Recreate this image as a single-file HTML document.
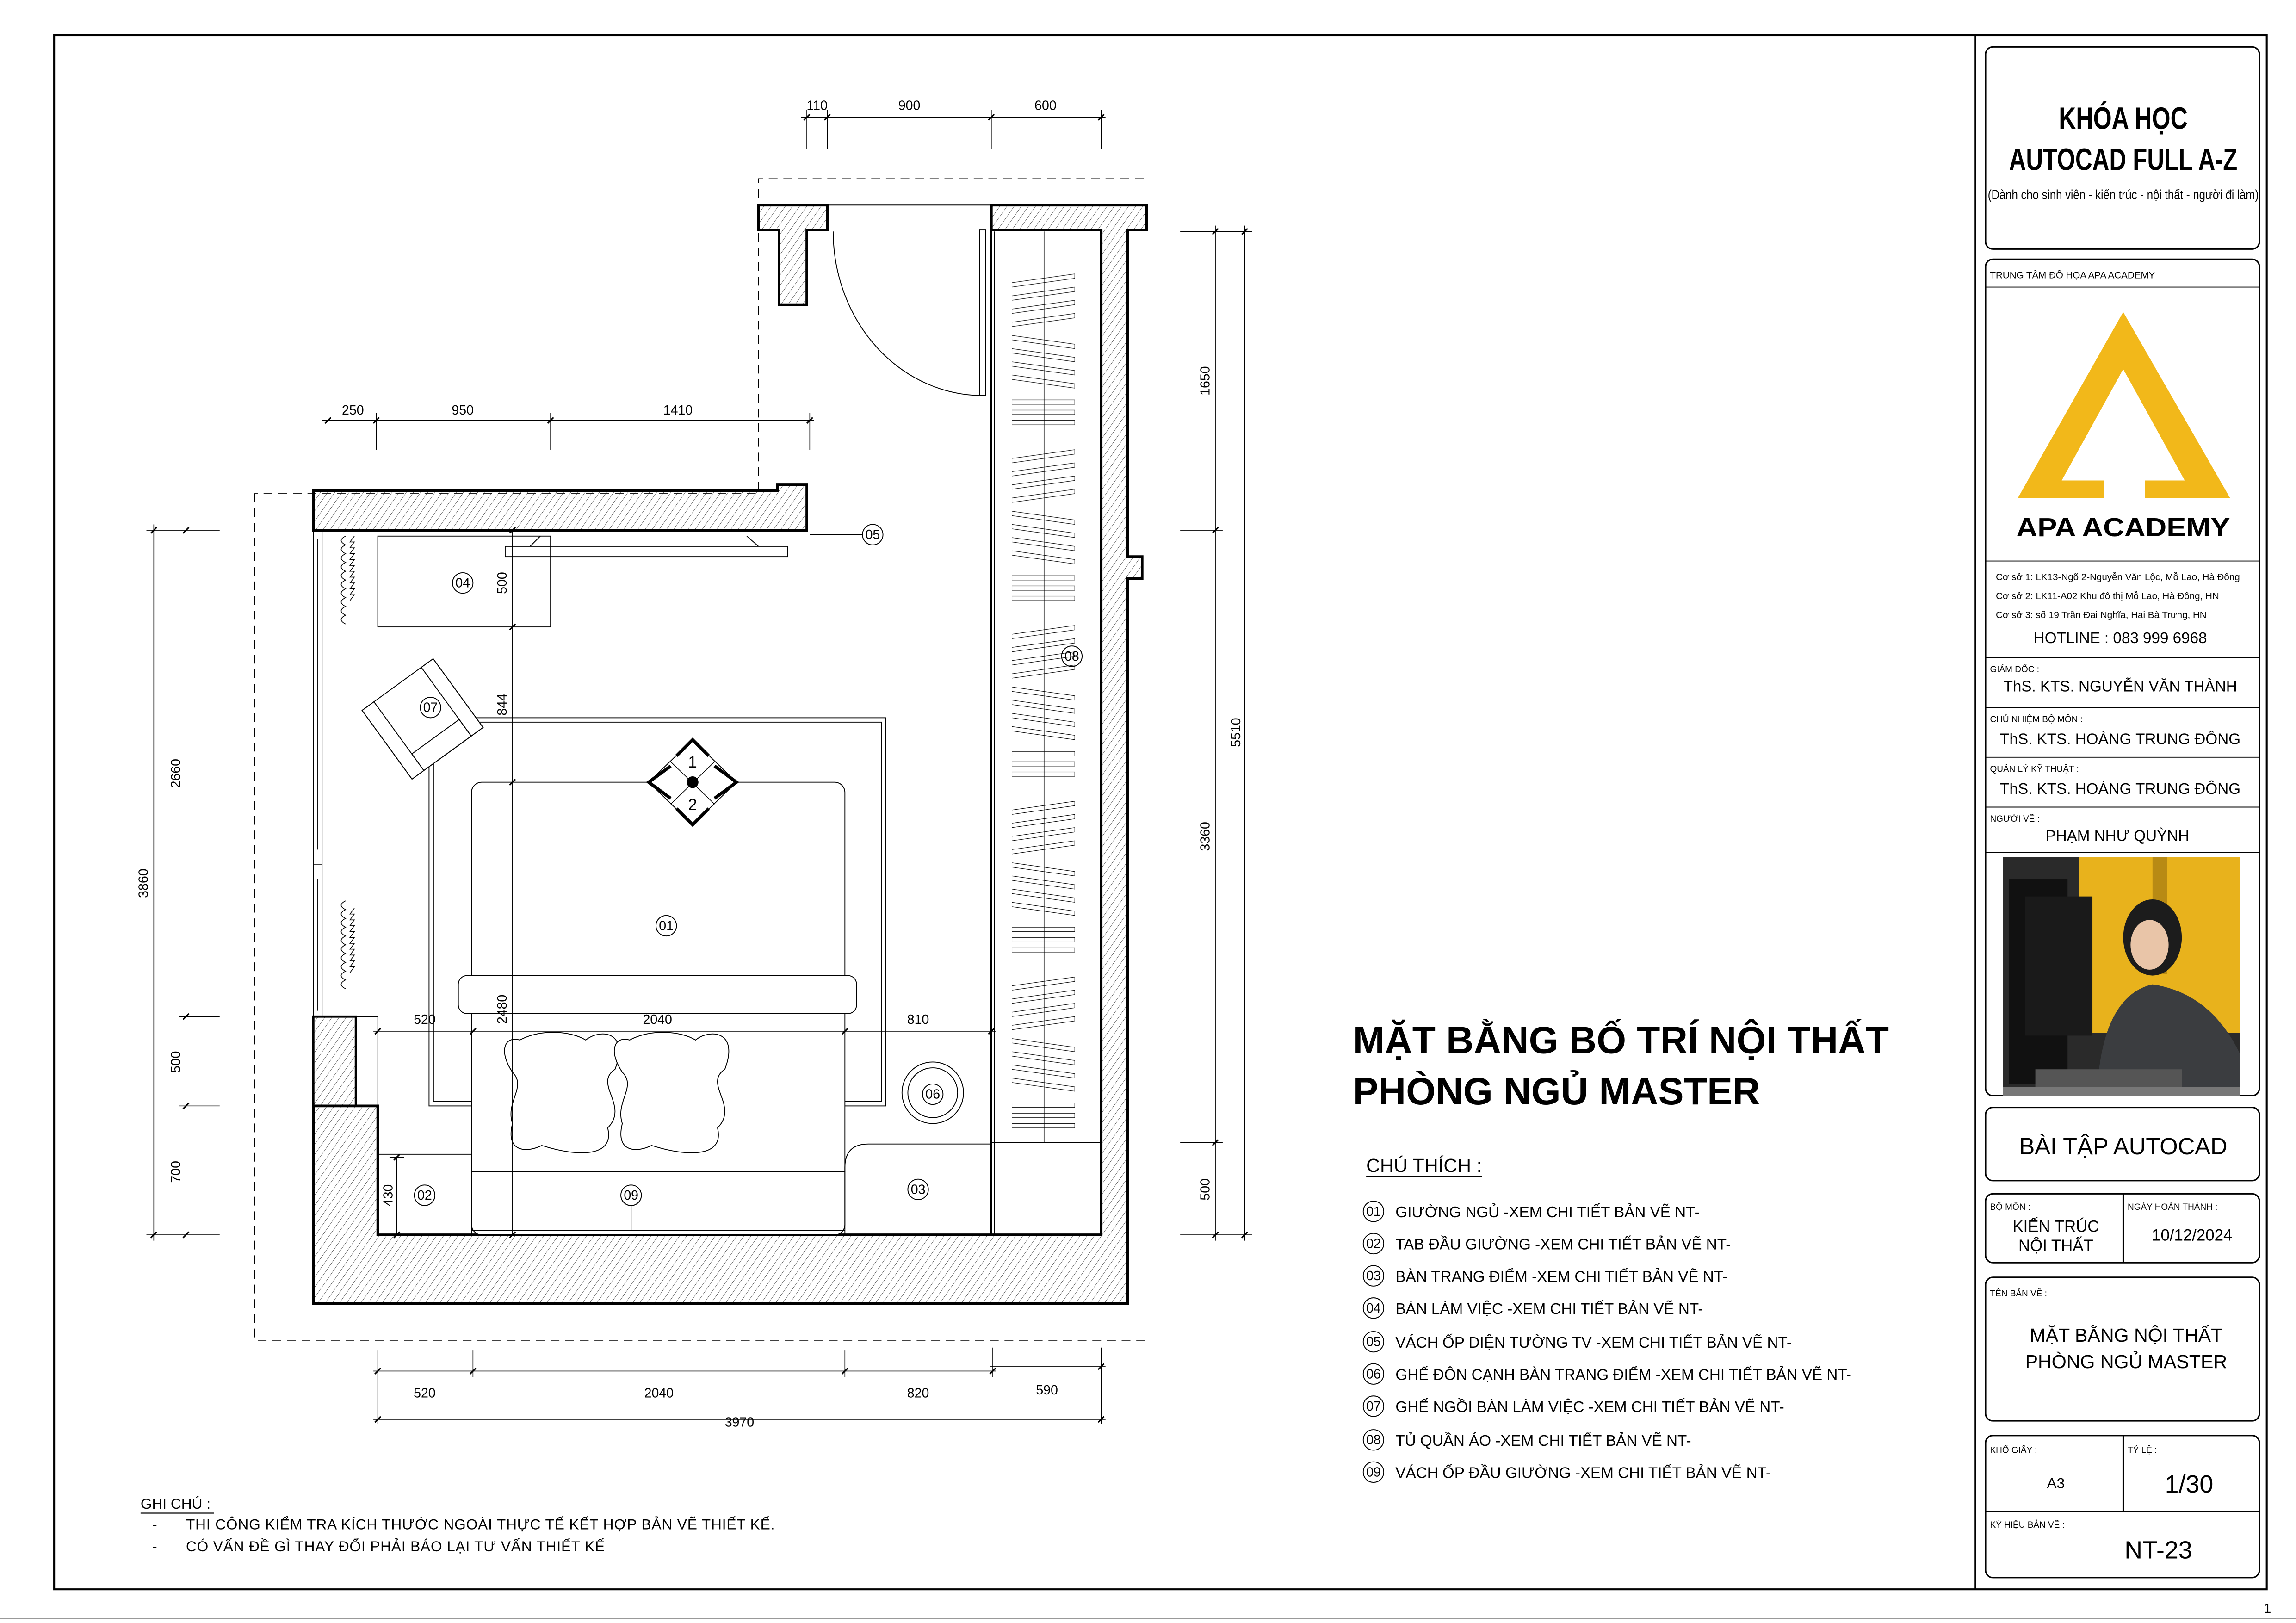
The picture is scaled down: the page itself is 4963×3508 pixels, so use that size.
<!DOCTYPE html>
<html><head><meta charset="utf-8"><style>
html,body{margin:0;padding:0;background:#fff}
svg{display:block}
text{font-family:"Liberation Sans",sans-serif;fill:#000}
</style></head><body>
<svg width="4963" height="3508" viewBox="0 0 1568 1108" preserveAspectRatio="none" xmlns="http://www.w3.org/2000/svg">
<defs>
<pattern id="h" width="4" height="4" patternUnits="userSpaceOnUse" patternTransform="rotate(35)">
<line x1="0" y1="0" x2="0" y2="4" stroke="#000" stroke-width="0.35"/>
</pattern>
<pattern id="hang" x="691" y="185" width="43" height="120" patternUnits="userSpaceOnUse">
<g fill="#fff" stroke="#000" stroke-width="0.35">
<polygon points="0,8 43,2 43,5 0,11"/><polygon points="0,17 43,11 43,14 0,20"/><polygon points="0,26 43,20 43,23 0,29"/><polygon points="0,35 43,29 43,32 0,38"/>
<polygon points="0,44 43,50 43,53 0,47"/><polygon points="0,53 43,59 43,62 0,56"/><polygon points="0,62 43,68 43,71 0,65"/><polygon points="0,71 43,77 43,80 0,74"/>
<rect x="0" y="88" width="43" height="3"/><rect x="0" y="95" width="43" height="3"/><rect x="0" y="102" width="43" height="3"/>
</g>
</pattern>
</defs>
<rect x="0" y="0" width="1568" height="1108" fill="#fff"/>
<rect x="37" y="24" width="1511" height="1061" fill="none" stroke="#000" stroke-width="1.3"/>
<line x1="1349" y1="24" x2="1349" y2="1085" stroke="#000" stroke-width="1"/>
<line x1="0" y1="1105" x2="1568" y2="1105" stroke="#999" stroke-width="0.6"/>
<text x="1546" y="1101" font-size="9">1</text>

<g fill="none" stroke="#000" stroke-width="0.5" stroke-dasharray="6,4">
<path d="M174,337 V915 H782 V122 H518 V337 Z"/>
</g>

<g stroke="#000" stroke-width="1.8" fill="url(#h)">
<path d="M214,335 H531 V331 H551 V362 H214 Z"/>
<path d="M518,140 H565 V157 H551 V208 H532 V157 H518 Z"/>
<path d="M677,140 H783 V157 H770 V380 H780 V395 H770 V890 H214 V755 H258 V843 H752 V157 H677 Z"/>
</g>
<rect x="214" y="694" width="29" height="61" fill="url(#h)" stroke="#000" stroke-width="1.5"/>
<line x1="243" y1="694" x2="258" y2="694" stroke="#000" stroke-width="0.5"/>
<line x1="258" y1="694" x2="258" y2="755" stroke="#000" stroke-width="0.5"/>
<g fill="none" stroke="#000" stroke-width="0.5">
<rect x="214" y="362" width="6" height="332"/>
<line x1="217" y1="368" x2="217" y2="580"/><line x1="217" y1="600" x2="217" y2="690"/>
<line x1="214" y1="590" x2="220" y2="590"/>
</g>
<g fill="none" stroke="#000" stroke-width="0.5">
<path d="M236,366 q-6,3 0,6 q-6,3 0,6 q-6,3 0,6 q-6,3 0,6 q-6,3 0,6 q-6,3 0,6 q-6,3 0,6 q-6,3 0,6 q-6,3 0,6 q-6,3 0,6"/>
<path d="M242,366 l-3,4 l3,0 l-3,4 l3,0 l-3,4 l3,0 l-3,4 l3,0 l-3,4 l3,0 l-3,4 l3,0 l-3,4 l3,0 l-3,4 l3,0 l-3,4 l3,0 l-3,4 l3,0 l-3,4"/>
<path d="M236,615 q-6,3 0,6 q-6,3 0,6 q-6,3 0,6 q-6,3 0,6 q-6,3 0,6 q-6,3 0,6 q-6,3 0,6 q-6,3 0,6 q-6,3 0,6 q-6,3 0,6"/>
<path d="M242,620 l-3,4 l3,0 l-3,4 l3,0 l-3,4 l3,0 l-3,4 l3,0 l-3,4 l3,0 l-3,4 l3,0 l-3,4 l3,0 l-3,4 l3,0 l-3,4 l3,0 l-3,4 l3,0 l-3,4"/>
</g>

<g fill="none" stroke="#000" stroke-width="0.6">
<rect x="669" y="157" width="4" height="113"/>
<path d="M569,158 A102,112 0 0 0 671,270"/>
<line x1="565" y1="140" x2="677" y2="140"/>
</g>

<g fill="none" stroke="#000" stroke-width="0.6">
<rect x="677" y="157" width="75" height="686" stroke-width="1.2"/>
<line x1="679" y1="158" x2="679" y2="843"/>
<line x1="677" y1="780" x2="752" y2="780"/>
</g>
<rect x="691" y="185" width="43" height="590" fill="url(#hang)"/>
<line x1="713" y1="158" x2="713" y2="780" stroke="#000" stroke-width="0.5"/>

<g fill="none" stroke="#000" stroke-width="0.6">
<rect x="258" y="366" width="118" height="62"/>
<rect x="345" y="373" width="193" height="7"/>
<line x1="362" y1="373" x2="369" y2="366"/><line x1="510" y1="366" x2="518" y2="373"/>
<rect x="293" y="490" width="312" height="265"/>
<rect x="296" y="493" width="306" height="259"/>
<rect x="322" y="534" width="255" height="309" rx="7" fill="#fff"/>
<rect x="313" y="666" width="272" height="26" rx="6" fill="#fff"/>
<line x1="322" y1="800" x2="577" y2="800"/>
<line x1="322" y1="840" x2="577" y2="840"/>
<rect x="258" y="788" width="64" height="55"/>
<path d="M577,843 V797 q0,-16 16,-16 H677"/>
<circle cx="637" cy="746" r="21"/><circle cx="637" cy="746" r="17"/>
<g transform="rotate(-36 288 490)"><rect x="258" y="462" width="60" height="58" fill="#fff"/><rect x="258" y="462" width="10" height="58"/><rect x="308" y="462" width="10" height="58"/><rect x="268" y="506" width="40" height="14"/></g>
<path d="M355,710 c15,-8 35,-6 45,0 c10,-8 30,-6 20,20 c-15,10 10,25 -5,40 c5,20 -20,20 -45,12 c-10,5 -25,5 -20,-15 c-5,-15 10,-25 0,-35 c-10,-15 -5,-25 5,-22 z" fill="#fff"/>
<path d="M430,710 c15,-8 35,-6 45,0 c10,-8 30,-6 20,20 c-15,10 10,25 -5,40 c5,20 -20,20 -45,12 c-10,5 -25,5 -20,-15 c-5,-15 10,-25 0,-35 c-10,-15 -5,-25 5,-22 z" fill="#fff"/>
</g>
<g stroke="#000" fill="#fff">
<path d="M473,505 L503,534 L473,563 L443,534 Z" stroke-width="0.6"/>
<path d="M458,520 L488,549 M488,520 L458,549" stroke-width="0.5"/>
<path d="M462,516 L473,505 L484,516 M488,523 L503,534 L488,545 M484,552 L473,563 L462,552 M458,545 L443,534 L458,523" stroke-width="2.2" fill="none"/>
<circle cx="473" cy="534" r="3.5" fill="#000"/>
</g>
<text x="473" y="524" font-size="11" text-anchor="middle">1</text>
<text x="473" y="553" font-size="11" text-anchor="middle">2</text>

<g font-size="9" text-anchor="middle">
<g fill="none" stroke="#000" stroke-width="0.6">
<circle cx="316" cy="398" r="7"/><circle cx="596" cy="365" r="7"/><circle cx="294" cy="483" r="7"/><circle cx="455" cy="632" r="7"/><circle cx="732" cy="448" r="7"/><circle cx="637" cy="747" r="7"/><circle cx="290" cy="816" r="7"/><circle cx="431" cy="816" r="7"/><circle cx="627" cy="812" r="7"/>
<line x1="553" y1="365" x2="589" y2="365"/><line x1="431" y1="823" x2="431" y2="840"/>
</g>
<text x="316" y="401">04</text><text x="596" y="368">05</text><text x="294" y="486">07</text><text x="455" y="635">01</text><text x="732" y="451">08</text><text x="637" y="750">06</text><text x="290" y="819">02</text><text x="431" y="819">09</text><text x="627" y="815">03</text>
</g>

<g stroke="#000" stroke-width="0.5" fill="none">
<line x1="547" y1="80" x2="755" y2="80"/>
<line x1="551" y1="75" x2="551" y2="102"/><line x1="565" y1="75" x2="565" y2="102"/><line x1="677" y1="75" x2="677" y2="102"/><line x1="752" y1="75" x2="752" y2="102"/>
<line x1="220" y1="287" x2="556" y2="287"/>
<line x1="224" y1="282" x2="224" y2="307"/><line x1="257" y1="282" x2="257" y2="307"/><line x1="376" y1="282" x2="376" y2="307"/><line x1="553" y1="282" x2="553" y2="307"/>
<line x1="830" y1="154" x2="830" y2="847"/><line x1="850" y1="154" x2="850" y2="847"/>
<line x1="806" y1="158" x2="855" y2="158"/><line x1="806" y1="362" x2="835" y2="362"/><line x1="806" y1="780" x2="835" y2="780"/><line x1="806" y1="843" x2="855" y2="843"/>
<line x1="105" y1="358" x2="105" y2="847"/><line x1="127" y1="358" x2="127" y2="847"/>
<line x1="100" y1="362" x2="150" y2="362"/><line x1="122" y1="694" x2="150" y2="694"/><line x1="122" y1="755" x2="150" y2="755"/><line x1="100" y1="843" x2="150" y2="843"/>
<line x1="255" y1="936" x2="680" y2="936"/><line x1="676" y1="933" x2="755" y2="933"/>
<line x1="255" y1="969" x2="755" y2="969"/>
<line x1="258" y1="922" x2="258" y2="972"/><line x1="323" y1="922" x2="323" y2="940"/><line x1="577" y1="922" x2="577" y2="940"/><line x1="678" y1="920" x2="678" y2="940"/><line x1="752" y1="920" x2="752" y2="972"/>
<line x1="255" y1="704" x2="680" y2="704"/>
<line x1="350" y1="362" x2="350" y2="843"/>
<line x1="271" y1="790" x2="271" y2="843"/>
<line x1="266" y1="790" x2="276" y2="790"/>
</g>
<g stroke="#000" stroke-width="1">
<path d="M549,82 l4,-4 M563,82 l4,-4 M675,82 l4,-4 M750,82 l4,-4 M222,289 l4,-4 M255,289 l4,-4 M374,289 l4,-4 M551,289 l4,-4 M828,160 l4,-4 M828,364 l4,-4 M828,782 l4,-4 M828,845 l4,-4 M848,160 l4,-4 M848,845 l4,-4 M103,364 l4,-4 M103,845 l4,-4 M125,364 l4,-4 M125,696 l4,-4 M125,757 l4,-4 M125,845 l4,-4 M256,938 l4,-4 M321,938 l4,-4 M575,938 l4,-4 M676,938 l4,-4 M750,935 l4,-4 M256,971 l4,-4 M750,971 l4,-4 M256,706 l4,-4 M321,706 l4,-4 M575,706 l4,-4 M675,706 l4,-4 M348,364 l4,-4 M348,430 l4,-4 M348,536 l4,-4 M348,845 l4,-4 M269,792 l4,-4 M269,845 l4,-4"/>
</g>
<g font-size="9" text-anchor="middle">
<text x="558" y="75">110</text><text x="621" y="75">900</text><text x="714" y="75">600</text>
<text x="241" y="283">250</text><text x="316" y="283">950</text><text x="463" y="283">1410</text>
<text x="290" y="954">520</text><text x="450" y="954">2040</text><text x="627" y="954">820</text><text x="715" y="952">590</text><text x="505" y="974">3970</text>
<text x="290" y="699">520</text><text x="449" y="699">2040</text><text x="627" y="699">810</text>
<text transform="translate(826,260) rotate(-90)">1650</text><text transform="translate(826,571) rotate(-90)">3360</text><text transform="translate(826,812) rotate(-90)">500</text><text transform="translate(847,500) rotate(-90)">5510</text>
<text transform="translate(123,528) rotate(-90)">2660</text><text transform="translate(123,725) rotate(-90)">500</text><text transform="translate(123,800) rotate(-90)">700</text><text transform="translate(101,603) rotate(-90)">3860</text>
<text transform="translate(346,398) rotate(-90)">500</text><text transform="translate(346,481) rotate(-90)">844</text><text transform="translate(346,689) rotate(-90)">2480</text><text transform="translate(268,816) rotate(-90)">430</text>
</g>

<text x="924" y="719" font-size="26" font-weight="bold" textLength="366">MẶT BẰNG BỐ TRÍ NỘI THẤT</text>
<text x="924" y="754" font-size="26" font-weight="bold" textLength="278">PHÒNG NGỦ MASTER</text>
<text x="933" y="800" font-size="13" textLength="79">CHÚ THÍCH :</text>
<line x1="933" y1="803" x2="1012" y2="803" stroke="#000" stroke-width="0.8"/>
<g font-size="10.5">
<g fill="none" stroke="#000" stroke-width="0.6">
<circle cx="938" cy="827" r="7"/><circle cx="938" cy="849" r="7"/><circle cx="938" cy="871" r="7"/><circle cx="938" cy="893" r="7"/><circle cx="938" cy="916" r="7"/><circle cx="938" cy="938" r="7"/><circle cx="938" cy="960" r="7"/><circle cx="938" cy="983" r="7"/><circle cx="938" cy="1005" r="7"/>
</g>
<g font-size="9" text-anchor="middle"><text x="938" y="830">01</text><text x="938" y="852">02</text><text x="938" y="874">03</text><text x="938" y="896">04</text><text x="938" y="919">05</text><text x="938" y="941">06</text><text x="938" y="963">07</text><text x="938" y="986">08</text><text x="938" y="1008">09</text></g>
<text x="953" y="831">GIƯỜNG NGỦ -XEM CHI TIẾT BẢN VẼ NT-</text>
<text x="953" y="853">TAB ĐẦU GIƯỜNG  -XEM CHI TIẾT BẢN VẼ NT-</text>
<text x="953" y="875">BÀN TRANG ĐIỂM  -XEM CHI TIẾT BẢN VẼ NT-</text>
<text x="953" y="897">BÀN LÀM VIỆC -XEM CHI TIẾT BẢN VẼ NT-</text>
<text x="953" y="920">VÁCH ỐP DIỆN TƯỜNG TV -XEM CHI TIẾT BẢN VẼ NT-</text>
<text x="953" y="942">GHẾ ĐÔN CẠNH BÀN TRANG ĐIỂM -XEM CHI TIẾT BẢN VẼ NT-</text>
<text x="953" y="964">GHẾ NGỒI BÀN LÀM VIỆC -XEM CHI TIẾT BẢN VẼ NT-</text>
<text x="953" y="987">TỦ QUẦN ÁO -XEM CHI TIẾT BẢN VẼ NT-</text>
<text x="953" y="1009">VÁCH ỐP ĐẦU GIƯỜNG  -XEM CHI TIẾT BẢN VẼ NT-</text>
</g>
<text x="96" y="1030" font-size="10">GHI CHÚ :</text>
<line x1="96" y1="1033" x2="146" y2="1033" stroke="#000" stroke-width="0.7"/>
<g font-size="10"><text x="104" y="1044">-</text><text x="127" y="1044" textLength="402">THI CÔNG KIỂM TRA KÍCH THƯỚC NGOÀI THỰC TẾ KẾT HỢP BẢN VẼ THIẾT KẾ.</text>
<text x="104" y="1059">-</text><text x="127" y="1059" textLength="286">CÓ VẤN ĐỀ GÌ THAY ĐỔI PHẢI BÁO LẠI TƯ VẤN THIẾT KẾ</text></g>

<g fill="none" stroke="#000" stroke-width="1">
<rect x="1356" y="32" width="187" height="138" rx="5"/>
<rect x="1356" y="177" width="187" height="571" rx="5"/>
<rect x="1356" y="756" width="187" height="50" rx="5"/>
<rect x="1356" y="815" width="187" height="47" rx="5"/>
<rect x="1356" y="872" width="187" height="98" rx="5"/>
<rect x="1356" y="980" width="187" height="97" rx="5"/>
<line x1="1356" y1="196" x2="1543" y2="196" stroke-width="0.6"/>
<line x1="1356" y1="383" x2="1543" y2="383" stroke-width="0.6"/>
<line x1="1356" y1="449" x2="1543" y2="449" stroke-width="0.6"/>
<line x1="1356" y1="483" x2="1543" y2="483" stroke-width="0.6"/>
<line x1="1356" y1="517" x2="1543" y2="517" stroke-width="0.6"/>
<line x1="1356" y1="551" x2="1543" y2="551" stroke-width="0.6"/>
<line x1="1356" y1="582" x2="1543" y2="582" stroke-width="0.6"/>
<line x1="1450" y1="815" x2="1450" y2="862"/>
<line x1="1450" y1="980" x2="1450" y2="1032"/>
<line x1="1356" y1="1032" x2="1543" y2="1032"/>
</g>
<text x="1450" y="88" font-size="21" font-weight="bold" text-anchor="middle" textLength="88" lengthAdjust="spacingAndGlyphs">KHÓA HỌC</text>
<text x="1450" y="116" font-size="21" font-weight="bold" text-anchor="middle" textLength="156" lengthAdjust="spacingAndGlyphs">AUTOCAD FULL A-Z</text>
<text x="1450" y="136" font-size="9" text-anchor="middle" textLength="185" lengthAdjust="spacingAndGlyphs">(Dành cho sinh viên  - kiến trúc - nội thất - người đi làm)</text>
<text x="1359" y="190" font-size="6.5">TRUNG TÂM ĐỒ HỌA APA ACADEMY</text>
<path d="M1378,340 L1450,213 L1523,340 L1465,340 L1465,328 L1492,328 L1450,252 L1408,328 L1437,328 L1437,340 Z" fill="#F2B81A"/>
<text x="1450" y="366" font-size="18" font-weight="bold" text-anchor="middle" textLength="146" lengthAdjust="spacingAndGlyphs" fill="#222">APA ACADEMY</text>
<g font-size="6.5"><text x="1363" y="396">Cơ sở 1: LK13-Ngõ 2-Nguyễn Văn Lộc, Mỗ Lao, Hà Đông</text>
<text x="1363" y="409">Cơ sở 2: LK11-A02 Khu đô thị Mỗ Lao, Hà Đông, HN</text>
<text x="1363" y="422">Cơ sở 3: số 19 Trần Đại Nghĩa, Hai Bà Trưng, HN</text></g>
<text x="1448" y="439" font-size="10.5" text-anchor="middle">HOTLINE : 083 999 6968</text>
<g font-size="6"><text x="1359" y="459">GIÁM ĐỐC :</text><text x="1359" y="493">CHỦ NHIỆM BỘ MÔN :</text><text x="1359" y="527">QUẢN LÝ KỸ THUẬT :</text><text x="1359" y="561">NGƯỜI VẼ :</text></g>
<g font-size="10.5" text-anchor="middle"><text x="1448" y="472">ThS. KTS. NGUYỄN VĂN THÀNH</text><text x="1448" y="508">ThS. KTS. HOÀNG TRUNG ĐÔNG</text><text x="1448" y="542">ThS. KTS. HOÀNG TRUNG ĐÔNG</text><text x="1446" y="574">PHẠM NHƯ QUỲNH</text></g>
<rect x="1368" y="585" width="162" height="163" fill="#2a2a2a"/>
<rect x="1420" y="585" width="110" height="120" fill="#e8b21c"/>
<rect x="1372" y="600" width="40" height="140" fill="#111"/>
<rect x="1383" y="612" width="46" height="95" fill="#1a1a1a"/>
<rect x="1470" y="585" width="10" height="80" fill="#b88a14"/>
<ellipse cx="1470" cy="640" rx="20" ry="26" fill="#1c1c1c"/>
<ellipse cx="1468" cy="645" rx="13" ry="17" fill="#e9c5a8"/>
<path d="M1432,748 Q1435,680 1470,672 Q1510,678 1530,720 L1530,748 Z" fill="#3b3d40"/>
<rect x="1390" y="730" width="100" height="12" fill="#555"/>
<rect x="1368" y="742" width="162" height="6" fill="#777"/>

<text x="1450" y="788" font-size="16" text-anchor="middle">BÀI TẬP AUTOCAD</text>
<g font-size="6"><text x="1359" y="826">BỘ MÔN :</text><text x="1453" y="826">NGÀY HOÀN THÀNH :</text><text x="1359" y="885">TÊN BẢN VẼ :</text><text x="1359" y="992">KHỔ GIẤY :</text><text x="1453" y="992">TỶ LỆ :</text><text x="1359" y="1043">KÝ HIỆU BẢN VẼ :</text></g>
<g text-anchor="middle"><text x="1404" y="841" font-size="11">KIẾN TRÚC</text><text x="1404" y="854" font-size="11">NỘI THẤT</text><text x="1497" y="847" font-size="11">10/12/2024</text>
<text x="1452" y="916" font-size="13">MẶT BẰNG NỘI THẤT</text><text x="1452" y="934" font-size="13">PHÒNG NGỦ MASTER</text>
<text x="1404" y="1016" font-size="10">A3</text><text x="1495" y="1019" font-size="17">1/30</text><text x="1474" y="1064" font-size="17">NT-23</text></g>
</svg>
</body></html>
